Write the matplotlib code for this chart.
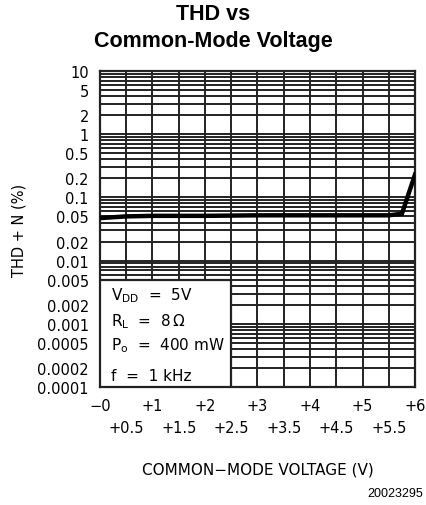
import matplotlib
matplotlib.use("Agg")
import matplotlib.pyplot as plt
from matplotlib.patches import Rectangle
from matplotlib.ticker import FixedLocator, LogLocator, NullFormatter

# curve
cm_voltage = [0.0, 0.5, 1.0, 2.0, 3.0, 4.0, 5.0, 5.5, 5.75, 6.0]
thd_n = [0.047, 0.050, 0.051, 0.051, 0.052, 0.052, 0.052, 0.052, 0.055, 0.23]

y_ticks = [10, 5, 2, 1, 0.5, 0.2, 0.1, 0.05, 0.02, 0.01, 0.005, 0.002,
           0.001, 0.0005, 0.0002, 0.0001]
y_labels = ["10", "5", "2", "1", "0.5", "0.2", "0.1", "0.05", "0.02", "0.01",
            "0.005", "0.002", "0.001", "0.0005", "0.0002", "0.0001"]
x_major = [0, 1, 2, 3, 4, 5, 6]
x_major_labels = ["\u22120", "+1", "+2", "+3", "+4", "+5", "+6"]
x_minor = [0.5, 1.5, 2.5, 3.5, 4.5, 5.5]
x_minor_labels = ["+0.5", "+1.5", "+2.5", "+3.5", "+4.5", "+5.5"]

cond_lines = [r"V$_{\rm DD}$  =  5V", r"R$_{\rm L}$  =  8$\,\Omega$",
              r"P$_{\rm o}$  =  400 mW", r"f  =  1 kHz"]
cond_y = [0.278, 0.196, 0.120, 0.022]

plt.rcParams["font.family"] = "DejaVu Sans"
plt.rcParams["mathtext.fontset"] = "dejavusans"

fig = plt.figure(figsize=(4.27, 5.06), dpi=100)
ax = fig.add_axes([0.234, 0.233, 0.738, 0.625])

ax.set_yscale("log")
ax.set_xlim(0, 6)
ax.set_ylim(1e-4, 10)

ax.yaxis.set_major_locator(FixedLocator(y_ticks))
ax.set_yticklabels(y_labels)
ax.yaxis.set_minor_locator(LogLocator(base=10, subs=[2, 3, 4, 5, 6, 7, 8, 9], numticks=20))
ax.yaxis.set_minor_formatter(NullFormatter())

ax.set_xticks(x_major)
ax.set_xticklabels(x_major_labels)
ax.set_xticks(x_minor, minor=True)
ax.set_xticklabels(x_minor_labels, minor=True)

ax.tick_params(which="both", length=0, labelsize=10.5, colors="black")
ax.tick_params(axis="y", which="both", pad=8)
ax.tick_params(axis="x", which="major", pad=8)
ax.tick_params(axis="x", which="minor", pad=24)

ax.grid(True, which="both", color="#222222", linewidth=1.4)
ax.set_axisbelow(True)
for s in ax.spines.values():
    s.set_linewidth(1.6)
    s.set_color("#222222")

ax.plot(cm_voltage, thd_n, color="black", linewidth=3.2, zorder=3,
        solid_joinstyle="miter")

# conditions box in lower left
box = Rectangle((0, 1e-4), 2.5, 0.005 - 1e-4, facecolor="white",
                edgecolor="#222222", linewidth=1.6, zorder=4)
ax.add_patch(box)
for t, yy in zip(cond_lines, cond_y):
    ax.text(0.035, yy, t, transform=ax.transAxes,
            fontsize=11, va="baseline", ha="left", zorder=5)

ax.set_xlabel("COMMON\u2212MODE VOLTAGE (V)", fontsize=11, labelpad=19)
ax.set_ylabel("THD + N (%)", fontsize=10.5, labelpad=8)

fig.suptitle("THD vs\nCommon-Mode Voltage", fontsize=15.5, fontweight="bold",
             family="Liberation Sans", y=0.992, linespacing=1.35)
fig.text(0.99, 0.012, "20023295", fontsize=9, family="Liberation Sans",
         ha="right", va="bottom")

fig.savefig("out.png", dpi=100)
